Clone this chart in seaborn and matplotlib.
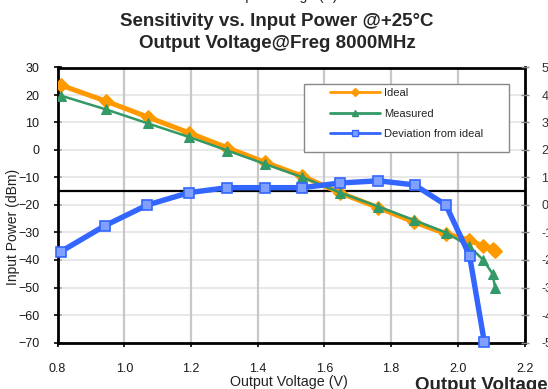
import matplotlib
matplotlib.use("Agg")
import matplotlib.pyplot as plt
import numpy as np
import pandas as pd
import seaborn as sns
from matplotlib.lines import Line2D
from matplotlib.patches import Rectangle

# ---------------- data ----------------
volt = [0.809, 0.944, 1.070, 1.195, 1.309, 1.422, 1.534, 1.647, 1.762, 1.869,
        1.965, 2.034, 2.076, 2.104, 2.112]
ideal = [23.6, 17.8, 12.0, 6.2, 0.8, -4.5, -9.5, -15.6, -21.0, -26.2,
         -30.5, -32.7, -35.0, -36.0, -36.6]
measured = [19.8, 14.8, 9.7, 4.7, -0.2, -5.1, -9.9, -15.5, -20.6, -25.5,
            -30.1, -35.0, -40.0, -45.0, -50.3]
dev_volt = [0.809, 0.942, 1.069, 1.194, 1.309, 1.422, 1.534, 1.647, 1.762,
            1.870, 1.964, 2.035, 2.079]
deviation = [-37.0, -27.5, -20.0, -15.5, -13.7, -13.7, -13.7, -12.0, -11.2,
             -12.7, -20.0, -38.4, -69.7]
reference_level = -15
x_ticks = [0.8, 1.0, 1.2, 1.4, 1.6, 1.8, 2.0, 2.2]
y_ticks = [30, 20, 10, 0, -10, -20, -30, -40, -50, -60, -70]
right_labels = ["5", "4", "3", "2", "1", "0", "-1", "-2", "-3", "-4", "-5"]
series_names = ["Ideal", "Measured", "Deviation from ideal"]

# ---------------- style ----------------
sns.set_theme(style="white")
plt.rcParams["font.family"] = ["Liberation Sans", "DejaVu Sans"]

ORANGE = "#FF9900"
GREEN = "#339966"
BLUE = "#3366FF"

W, H = 548, 389
fig = plt.figure(figsize=(W / 100, H / 100), dpi=100)
x0, x1, y0, y1 = 57.6, 524.6, 67.5, 342.5
ax = fig.add_axes([x0 / W, 1 - y1 / H, (x1 - x0) / W, (y1 - y0) / H])

df_main = pd.DataFrame({"V": volt, "Ideal": ideal, "Measured": measured})
df_dev = pd.DataFrame({"V": dev_volt, "Dev": deviation})

sns.lineplot(data=df_main, x="V", y="Ideal", ax=ax, color=ORANGE, lw=3.6,
             marker="D", markersize=7.5, markeredgecolor=ORANGE,
             sort=False, estimator=None, zorder=3)
sns.lineplot(data=df_main, x="V", y="Measured", ax=ax, color=GREEN, lw=1.8,
             marker="^", markersize=7, markeredgecolor=GREEN,
             sort=False, estimator=None, zorder=4)
sns.lineplot(data=df_dev, x="V", y="Dev", ax=ax, color=BLUE, lw=3.9,
             marker="s", markersize=6.5, markerfacecolor="#7FA0FF",
             markeredgecolor=BLUE, markeredgewidth=1.2,
             sort=False, estimator=None, zorder=5, clip_on=False)

ax.axhline(reference_level, color="black", lw=1.6, zorder=2.5)

ax.set_xlim(0.8, 2.2)
ax.set_ylim(-70, 30)
ax.set_xticks(x_ticks)
ax.set_xticklabels([f"{v:.1f}" for v in x_ticks])
ax.set_yticks(y_ticks)
ax.set_xlabel("")
ax.set_ylabel("")

for v in x_ticks[1:-1]:
    ax.axvline(v, color="#C8C8C8", lw=1.6, zorder=1)
for v in y_ticks[1:-1]:
    ax.axhline(v, color="#E2E2E2", lw=1.1, zorder=0.9)

for s in ax.spines.values():
    s.set_color("black")
    s.set_linewidth(2.0)
    s.set_visible(True)

ax.tick_params(axis="both", which="major", direction="inout", length=6,
               width=1.2, color="black", labelsize=9, labelcolor="#1a1a1a")
ax.tick_params(axis="y", pad=10, left=True)
ax.tick_params(axis="x", pad=12, bottom=True)

ax2 = ax.twinx()
ax2.set_ylim(-70, 30)
ax2.set_yticks(y_ticks)
ax2.set_yticklabels(right_labels)
ax2.tick_params(axis="y", direction="inout", length=6, width=1.0,
                color="#888888", labelsize=9, labelcolor="#333333", pad=9)
for s in ax2.spines.values():
    s.set_visible(False)

# texts
fig.text(280 / W, 1 + 0.3 / H, "Output Voltage (V)", ha="center", va="baseline",
         fontsize=10, color="#222222")
fig.text(277 / W, 1 - 21 / H, "Sensitivity vs. Input Power @+25°C",
         ha="center", va="center", fontsize=13.5, fontweight="bold")
fig.text(277 / W, 1 - 44 / H, "Output Voltage@Freg 8000MHz",
         ha="center", va="center", fontsize=13.5, fontweight="bold")
fig.text(289 / W, 1 - 382 / H, "Output Voltage (V)", ha="center", va="center",
         fontsize=10.3, color="#222222")
fig.text(13 / W, 1 - 227 / H, "Input Power (dBm)", ha="center", va="center",
         rotation=90, fontsize=10, color="#222222")
fig.text(415 / W, 1 - 377 / H, "Output Voltage", ha="left", va="top",
         fontsize=13.5, fontweight="bold")

# legend
fig.add_artist(Rectangle((304 / W, 1 - 152 / H), 205 / W, 68 / H,
                         transform=fig.transFigure, facecolor="white",
                         edgecolor="#888888", lw=1.0, zorder=3))
handles = [
    Line2D([], [], color=ORANGE, lw=2, marker="D", markersize=4),
    Line2D([], [], color=GREEN, lw=2, marker="^", markersize=5),
    Line2D([], [], color=BLUE, lw=2, marker="s", markersize=4,
           markerfacecolor="#7FA0FF", markeredgecolor=BLUE),
]
leg = fig.legend(handles, series_names, loc="upper left",
                 bbox_to_anchor=(330 / W, 1 - 88 / H),
                 bbox_transform=fig.transFigure, frameon=False,
                 fontsize=8, handlelength=4.5, handletextpad=0.35,
                 labelspacing=0.95, borderpad=0, borderaxespad=0)
leg.set_zorder(4)

fig.savefig("out.png", dpi=100)
